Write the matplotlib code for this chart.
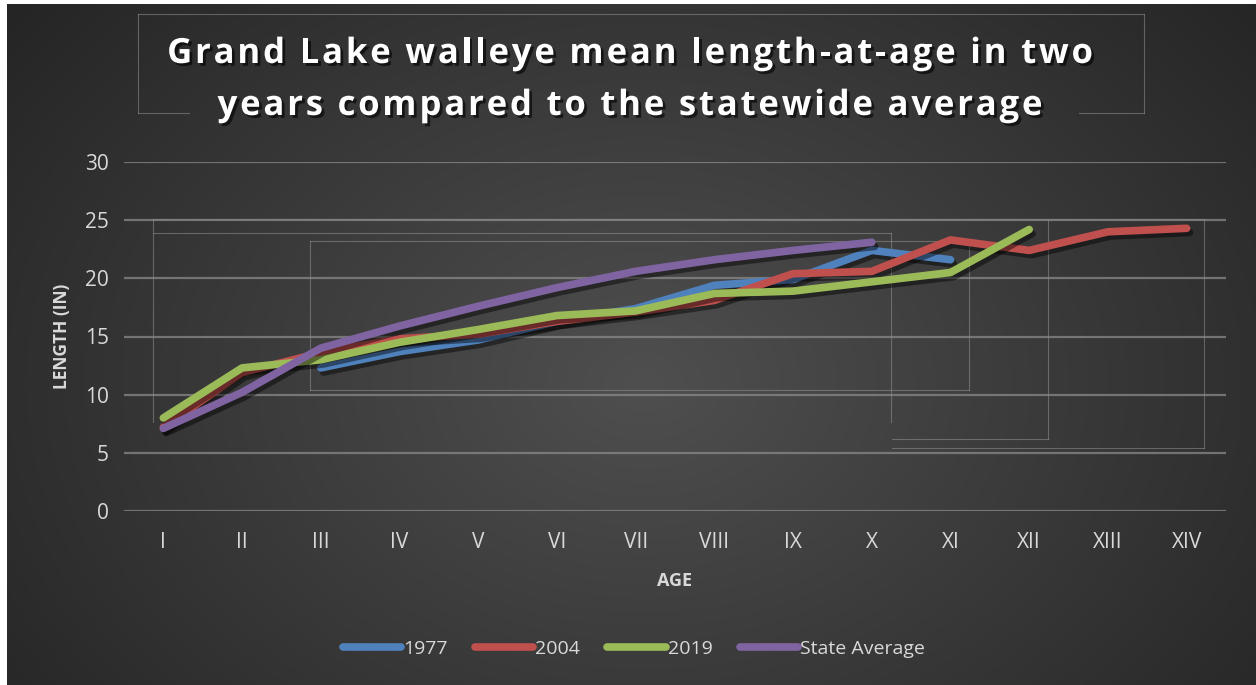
import numpy as np
import matplotlib
matplotlib.use("Agg")
import matplotlib.pyplot as plt
import matplotlib.patheffects as pe

# ---- data ----
ages = ["I", "II", "III", "IV", "V", "VI", "VII", "VIII", "IX", "X", "XI", "XII", "XIII", "XIV"]
y1977 = [None, None, 12.3, 13.7, 14.7, 16.3, 17.4, 19.4, 19.9, 22.4, 21.6, None, None, None]
y2004 = [7.2, 11.9, 13.6, 14.8, 15.2, 16.3, 17.1, 18.1, 20.4, 20.6, 23.3, 22.4, 24.0, 24.3]
y2019 = [8.0, 12.3, 13.0, 14.5, 15.6, 16.8, 17.2, 18.7, 18.9, 19.7, 20.5, 24.2, None, None]
ystate = [7.1, 10.2, 14.0, 15.9, 17.6, 19.2, 20.6, 21.6, 22.4, 23.1, None, None, None, None]
series_names = ["1977", "2004", "2019", "State Average"]
series_colors = ["#4f81bd", "#c0504d", "#9bbb59", "#8064a2"]
yticks = [0, 5, 10, 15, 20, 25, 30]
title_lines = ["Grand Lake walleye mean length-at-age in two", "years compared to the statewide average"]

W, H = 1256, 685
fig = plt.figure(figsize=(W / 100, H / 100), dpi=100)
fig.patch.set_facecolor("white")

# background with radial gradient
bg = fig.add_axes([7 / W, 0, 1 - 7 / W, 1 - 4 / H])
bg.set_axis_off()
yy, xx = np.mgrid[0:H, 0:W]
cx, cy = 640, 380
d = np.sqrt(((xx - cx) / 700.0) ** 2 + ((yy - cy) / 520.0) ** 2)
v = 0.31 - 0.17 * np.clip(d, 0, 1.2) / 1.2
img = np.dstack([v, v, v])
bg.imshow(img, aspect="auto", extent=[0, W, H, 0])
bg.set_xlim(0, W)
bg.set_ylim(H, 0)

# decorative faint frames (present in the reference)
fc = (0.6, 0.6, 0.6, 0.5)
segs = [
    [(132, 10), (1143, 10)], [(132, 10), (132, 110)], [(1143, 10), (1143, 110)],
    [(132, 110), (183, 110)], [(1078, 110), (1143, 110)],
    [(147, 216), (1204, 216)], [(147, 216), (147, 420)], [(147, 230), (889, 230)],
    [(889, 230), (889, 420)],
    [(305, 238), (967, 238)], [(305, 238), (305, 388)], [(305, 388), (967, 388)], [(967, 238), (967, 388)],
    [(1047, 217), (1047, 438)], [(890, 438), (1047, 438)],
    [(1204, 216), (1204, 447)], [(890, 447), (1204, 447)],
]
for s in segs:
    bg.plot([s[0][0], s[1][0]], [s[0][1], s[1][1]], color=fc, lw=0.8, zorder=2)

# main axes
left, right = 124 / W, 1226 / W
bottom, top = 1 - 511 / H, 1 - 162 / H
ax = fig.add_axes([left, bottom, right - left, top - bottom])
ax.set_facecolor("none")
x = np.arange(len(ages))

shadow = [pe.SimpleLineShadow(offset=(2, -3), shadow_color="black", alpha=0.45), pe.Normal()]
for name, vals, col in zip(series_names, [y1977, y2004, y2019, ystate], series_colors):
    arr = np.array([np.nan if v is None else v for v in vals], dtype=float)
    ax.plot(x, arr, color=col, lw=5.5, solid_capstyle="round", solid_joinstyle="round",
            label=name, path_effects=shadow, zorder=3)

ax.set_xlim(-0.5, len(ages) - 0.5)
ax.set_ylim(0, 30)
ax.set_yticks(yticks)
ax.set_xticks(x)
ax.set_xticklabels(ages)
ax.grid(axis="y", color="#8a8a8a", lw=1.6, alpha=0.75)
ax.set_axisbelow(True)
for sp in ax.spines.values():
    sp.set_visible(False)
ax.tick_params(length=0, colors="#d9d9d9", labelsize=15, pad=15)
ax.tick_params(axis="y", pad=11)
for lbl in ax.get_xticklabels() + ax.get_yticklabels():
    lbl.set_family("Open Sans")
    lbl.set_color("#d9d9d9")

ax.set_xlabel("AGE", family="Open Sans", fontweight="bold", fontsize=13, color="#d9d9d9", labelpad=14)
ax.set_ylabel("LENGTH (IN)", family="Open Sans", fontweight="bold", fontsize=12.5, color="#d9d9d9", labelpad=10)

# title with letter spacing
renderer = fig.canvas.get_renderer()
tfs = 25
tracking = 2.8
txt_pe = [pe.SimplePatchShadow(offset=(2, -2), shadow_rgbFace="black", alpha=0.6), pe.Normal()]
for i, line in enumerate(title_lines):
    widths = []
    for ch in line:
        if ch == " ":
            tmp = fig.text(0, 0, "a a", family="Open Sans", fontweight="bold", fontsize=tfs)
            wa = fig.text(0, 0, "aa", family="Open Sans", fontweight="bold", fontsize=tfs)
            w = tmp.get_window_extent(renderer).width - wa.get_window_extent(renderer).width
            tmp.remove(); wa.remove()
        else:
            tmp = fig.text(0, 0, ch, family="Open Sans", fontweight="bold", fontsize=tfs)
            w = tmp.get_window_extent(renderer).width
            tmp.remove()
        widths.append(w)
    total = sum(widths) + tracking * (len(line) - 1)
    xpos = 630 - total / 2
    ypix = 63 + 52 * i
    for ch, w in zip(line, widths):
        if ch != " ":
            fig.text(xpos / W, 1 - ypix / H, ch, ha="left", va="baseline",
                     family="Open Sans", fontweight="bold", fontsize=tfs, color="white",
                     path_effects=txt_pe)
        xpos += w + tracking

# legend
leg = fig.legend(loc="center", bbox_to_anchor=(634 / W, 1 - 649 / H), ncol=4, frameon=False,
                 prop={"family": "Open Sans", "size": 14}, handlelength=3.0, handletextpad=0.1,
                 columnspacing=1.4, labelcolor="#d9d9d9")
for h in leg.get_lines():
    h.set_linewidth(5.5)
    h.set_solid_capstyle("round")
    h.set_path_effects([])

fig.savefig("out.png", dpi=100)
